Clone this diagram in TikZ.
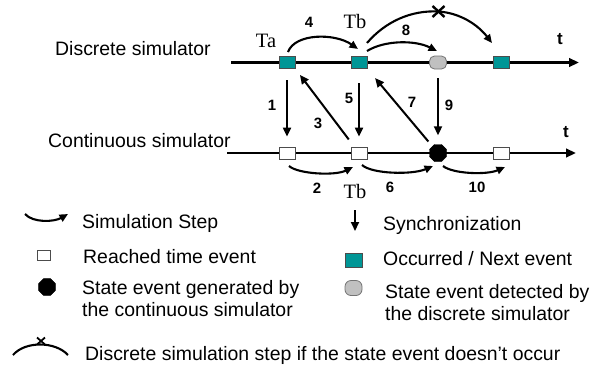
\documentclass[tikz,border=0pt]{standalone}
\usepackage{fontspec}
\setmainfont{Liberation Sans}
\newfontfamily\serifT{Liberation Serif}
\usetikzlibrary{arrows.meta,shapes.geometric,calc}
\definecolor{tealev}{RGB}{0,150,150}
\definecolor{grayev}{RGB}{192,192,192}
\begin{document}
\begin{tikzpicture}[x=1bp,y=-1bp,
  timeline/.style={line width=2.8bp,-{Triangle[length=10bp,width=8.5bp]}},
  sync/.style={line width=2bp,-{Triangle[length=9bp,width=8bp]}},
  steparc/.style={line width=2.1bp,-{Triangle[length=8.5bp,width=7.5bp]}},
  plainarc/.style={line width=2.1bp},
  occ/.style={draw=black!70,fill=tealev,line width=0.8bp,minimum width=16bp,minimum height=12bp,inner sep=0},
  reached/.style={draw=black!70,fill=white,line width=0.8bp,minimum width=16bp,minimum height=12bp,inner sep=0},
  stategen/.style={regular polygon,regular polygon sides=8,fill=black,draw=black,minimum size=18.4bp,inner sep=0},
  statedet/.style={draw=black!55,fill=grayev,rounded corners=5bp,minimum width=17bp,minimum height=13bp,inner sep=0,line width=0.8bp},
  lbl/.style={font=\fontsize{19.5}{22}\selectfont,anchor=base west,inner sep=0},
  num/.style={font=\fontsize{15}{15}\selectfont\bfseries,inner sep=0},
  tlab/.style={font=\fontsize{17}{17}\selectfont\bfseries,inner sep=0},
  tname/.style={font=\serifT\fontsize{20.5}{20}\selectfont,inner sep=0,anchor=base},
  xmark/.style={line width=2.4bp},
]
\path[use as bounding box] (0,0) rectangle (606,364);

% time lines
\coordinate (ds) at (231,62.5);
\coordinate (de) at (579,62.5);
\coordinate (cst) at (227,153);
\coordinate (cen) at (576,153);
\draw[timeline] (ds) -- (de);
\draw[timeline] (cst) -- (cen);

% row labels
\node[lbl] (dlab) at (55,55) {Discrete simulator};
\node[lbl] (clab) at (48,147) {Continuous simulator};
\node[tlab] (t1) at (560,39) {t};
\node[tlab] (t2) at (566,132) {t};

% events
\node[occ] (da) at (287,62.5) {};
\node[occ] (db) at (359,62.5) {};
\node[statedet] (dg) at (438,62.5) {};
\node[occ] (dn) at (501,62.5) {};
\node[reached] (ca) at (287,153) {};
\node[reached] (cb) at (359,153) {};
\node[stategen] (cs) at (438,153) {};
\node[reached] (cn) at (501,153) {};

\node[tname] (ta) at (266,47) {Ta};
\node[tname] (tb1) at (355,28) {Tb};
\node[tname] (tb2) at (355,198) {Tb};

% synchronisations
\draw[sync,shorten <=11.5bp,shorten >=10bp] (da.south) -- (ca.north);
\draw[sync,shorten <=14.5bp,shorten >=10bp] (db.south) -- (cb.north);
\draw[sync,shorten <=9bp,shorten >=9bp] (dg.south) -- (cs.north);
\draw[sync,shorten <=17bp,shorten >=7.5bp] (cb.center) -- (da.south east);
\draw[sync,shorten <=15bp,shorten >=12bp] (cs.center) -- (db.south east);

% simulation steps (discrete)
\draw[steparc] ($(da)+(1,-10.5)$) .. controls +(7,-19) and +(-23,-16) .. ($(db)+(-1,-13.5)$);
\draw[steparc] ($(db)+(8,-11.5)$) .. controls +(18,-11) and +(-22,-11) .. ($(dg)+(-1,-11.5)$);
\coordinate (xm) at ($(dg)+(0.5,-51)$);
\draw[plainarc] ($(db)+(8,-19.5)$) .. controls +(18,-21) and +(-28,-1.5) .. (xm);
\draw[steparc] (xm) .. controls +(22,1.5) and +(-14,-18) .. ($(dn)+(-9,-19.5)$);
\draw[xmark] ($(xm)+(-6,-5.5)$) -- ($(xm)+(6,5.5)$);
\draw[xmark] ($(xm)+(-6,5.5)$) -- ($(xm)+(6,-5.5)$);

% simulation steps (continuous)
\draw[steparc] ($(ca)+(2,13)$) .. controls +(9,8) and +(-18,9) .. ($(cb)+(-6,14)$);
\draw[steparc] ($(cb)+(3,12)$) .. controls +(10,9) and +(-21,9) .. ($(cs)+(-5,13)$);
\draw[steparc] ($(cs)+(5,13)$) .. controls +(10,8) and +(-18,8) .. ($(cn)+(4,14)$);

% step numbers
\node[num] (n1) at (272,105) {1};
\node[num] (n2) at (317,188) {2};
\node[num] (n3) at (318,123) {3};
\node[num] (n4) at (309,22) {4};
\node[num] (n5) at (349,98) {5};
\node[num] (n6) at (390,187) {6};
\node[num] (n7) at (412,102) {7};
\node[num] (n8) at (406,30) {8};
\node[num] (n9) at (449,105) {9};
\node[num] (n10) at (477,187) {10};

% legend
\coordinate (ls1) at (25,214);
\coordinate (le1) at (68,214);
\draw[steparc] (ls1) .. controls +(8,9) and +(-14,8) .. (le1);
\node[lbl] (lt1) at (82,228) {Simulation Step};

\node[reached,minimum width=13bp,minimum height=10bp] (lsq) at (43.5,255) {};
\node[lbl] (lt2) at (83,263) {Reached time event};

\node[stategen,minimum size=18bp] (loct) at (47,287) {};
\node[lbl] (lt3) at (82,294) {State event generated by};
\node[lbl] (lt3b) at (82,316) {the continuous simulator};

\coordinate (ls2) at (355,210);
\coordinate (le2) at (355,231);
\draw[sync] (ls2) -- (le2);
\node[lbl] (lt4) at (383,230) {Synchronization};

\node[occ,minimum width=17bp,minimum height=14bp] (lteal) at (353.5,260) {};
\node[lbl] (lt5) at (383,265) {Occurred / Next event};

\node[statedet,minimum width=17bp,minimum height=15bp,rounded corners=6bp] (lgray) at (353.5,288) {};
\node[lbl] (lt6) at (385,298) {State event detected by};
\node[lbl] (lt6b) at (385,320) {the discrete simulator};

\coordinate (ls3) at (13,355);
\coordinate (le3) at (68,355);
\coordinate (lx) at (41,341);
\draw[plainarc] (ls3) .. controls +(12,-14) and +(-13,-14) .. (le3);
\draw[line width=1.8bp] ($(lx)+(-4,-3.5)$) -- ($(lx)+(4,3.5)$);
\draw[line width=1.8bp] ($(lx)+(-4,3.5)$) -- ($(lx)+(4,-3.5)$);
\node[lbl] (lt7) at (85,360) {Discrete simulation step if the state event doesn’t occur};
\end{tikzpicture}
\end{document}
